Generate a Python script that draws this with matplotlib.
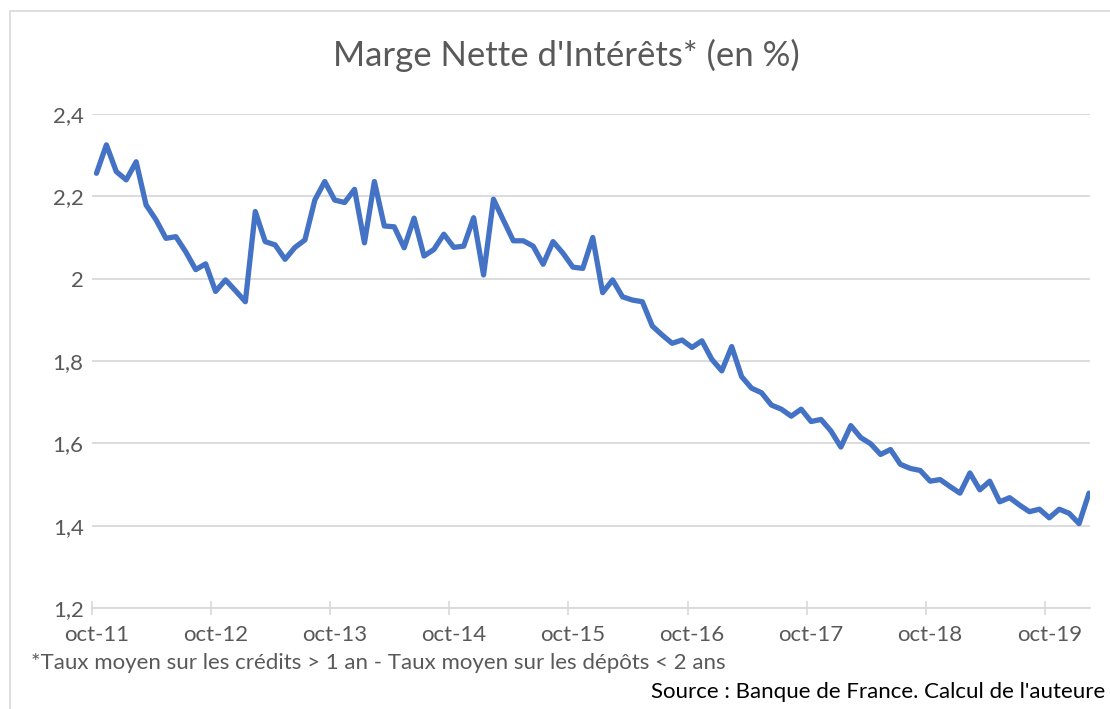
import numpy as np
import matplotlib.pyplot as plt
from matplotlib.patches import Rectangle

# DONNEES (mensuelles, oct-11 -> fev-20)
marge = [2.256, 2.325, 2.260, 2.240, 2.284, 2.179, 2.143, 2.098, 2.102, 2.065,
         2.022, 2.036, 1.969, 1.997, 1.971, 1.944, 2.163, 2.090, 2.082, 2.047,
         2.076, 2.094, 2.191, 2.236, 2.191, 2.185, 2.217, 2.087, 2.236, 2.128,
         2.126, 2.075, 2.147, 2.055, 2.071, 2.108, 2.076, 2.079, 2.148, 2.009,
         2.193, 2.142, 2.092, 2.092, 2.079, 2.035, 2.090, 2.062, 2.028, 2.025,
         2.100, 1.966, 1.997, 1.956, 1.948, 1.944, 1.885, 1.863, 1.843, 1.851,
         1.833, 1.849, 1.804, 1.776, 1.835, 1.762, 1.734, 1.723, 1.693, 1.683,
         1.666, 1.683, 1.653, 1.658, 1.630, 1.591, 1.643, 1.614, 1.599, 1.573,
         1.585, 1.549, 1.539, 1.534, 1.508, 1.512, 1.495, 1.479, 1.528, 1.487,
         1.508, 1.458, 1.468, 1.450, 1.434, 1.440, 1.419, 1.440, 1.430, 1.405,
         1.479]
etiquettes_x = ["oct-11", "oct-12", "oct-13", "oct-14", "oct-15",
                "oct-16", "oct-17", "oct-18", "oct-19"]
valeurs_y = [1.2, 1.4, 1.6, 1.8, 2.0, 2.2, 2.4]
etiquettes_y = ["1,2", "1,4", "1,6", "1,8", "2", "2,2", "2,4"]

GRIS = "#595959"
GRILLE = "#d9d9d9"
BLEU = "#4472c4"

plt.rcParams['font.family'] = ['Lato', 'DejaVu Sans']

fig = plt.figure(figsize=(11.1, 7.09), dpi=100)
fig.patches.append(Rectangle((10/1110, -0.1), 1.2, 1 - 11/709 + 0.1,
                             transform=fig.transFigure, fill=False,
                             edgecolor=GRILLE, linewidth=1.2))

ax = fig.add_axes([92/1110, 1 - 608/709, 998/1110, 494/709])
x = np.arange(len(marge))
ax.plot(x, marge, color=BLEU, linewidth=3.8, solid_joinstyle="round",
        solid_capstyle="round", zorder=3)

ax.set_xlim(-0.4, 100.1)
ax.set_ylim(1.2, 2.4)

# graduations : traits entre les mois, etiquettes sur les mois
pos_lab = np.arange(len(etiquettes_x)) * 12
ax.set_xticks(pos_lab - 0.45)
ax.set_xticklabels([])
ax.set_xticks(pos_lab, minor=True)
ax.set_xticklabels(etiquettes_x, minor=True)
ax.tick_params(axis="x", which="major", direction="inout", length=9.5,
               color=GRILLE, width=1.2)
ax.tick_params(axis="x", which="minor", length=0, pad=12, labelsize=16,
               labelcolor=GRIS)

ax.set_yticks(valeurs_y)
ax.set_yticklabels(etiquettes_y)
ax.tick_params(axis="y", length=0, pad=6, labelsize=16, labelcolor=GRIS)

ax.grid(axis="y", color=GRILLE, linewidth=1.3)
ax.set_axisbelow(True)
for s in ["left", "right", "top"]:
    ax.spines[s].set_visible(False)
ax.spines["bottom"].set_color(GRILLE)
ax.spines["bottom"].set_linewidth(1.3)

fig.text(566/1110, 1 - 55/709, "Marge Nette d'Intérêts* (en %)",
         ha="center", va="center", fontsize=25, color=GRIS)
fig.text(31/1110, 1 - 663/709,
         "*Taux moyen sur les crédits > 1 an - Taux moyen sur les dépôts < 2 ans",
         ha="left", va="center", fontsize=16, color=GRIS)
fig.text(1105/1110, 1 - 692/709, "Source : Banque de France. Calcul de l'auteure",
         ha="right", va="center", fontsize=16, color="black")

fig.savefig("out.png", dpi=100)
